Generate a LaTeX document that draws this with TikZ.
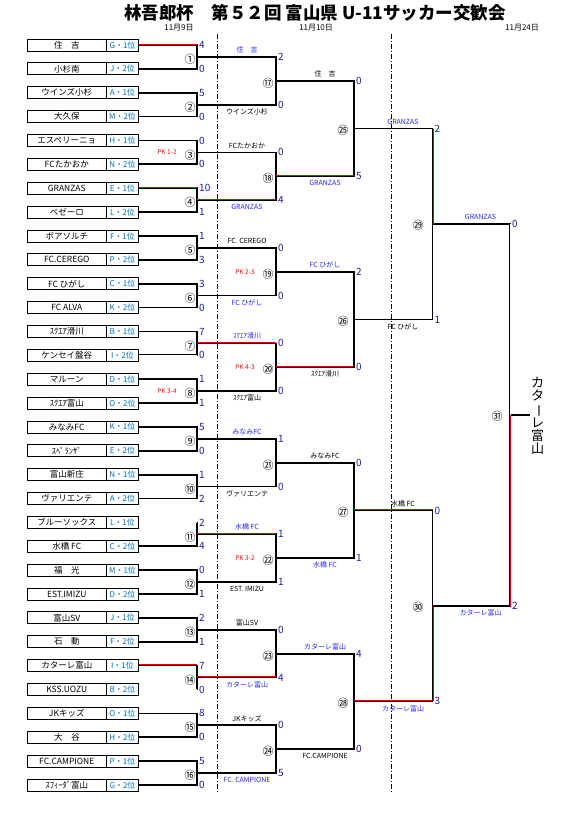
\documentclass[tikz,border=0pt]{standalone}
\usepackage{fontspec}
\setmainfont{Noto Sans CJK JP}
\usepackage{graphicx}
\definecolor{codeblue}{RGB}{0,112,192}
\definecolor{scorenavy}{RGB}{30,30,140}
\definecolor{lblblue}{RGB}{40,40,255}
\definecolor{pkred}{RGB}{255,0,0}
\definecolor{winred}{RGB}{230,0,0}
\tikzset{
  wire/.style={line width=1.7pt, line join=miter},
  winh/.style={draw=winred, line width=1.1pt, transform canvas={yshift=0.9pt}},
  winv/.style={draw=winred, line width=1.1pt, transform canvas={xshift=0.9pt}},
  dbl/.style={draw=white, line width=0.85pt},
  namebox/.style={draw, line width=0.8pt, minimum width=79.5pt, minimum height=12pt, inner sep=0pt, font=\fontsize{8.5}{9}\selectfont},
  codebox/.style={draw, line width=0.8pt, minimum width=32pt, minimum height=12pt, inner sep=0pt, text=codeblue, font=\fontsize{8}{9}\selectfont},
  score/.style={anchor=west, inner sep=0pt, text=scorenavy, font=\fontsize{10}{10}\selectfont},
  lbl/.style={inner sep=0pt, font=\fontsize{7}{8}\selectfont},
  circ/.style={inner sep=0pt, font=\fontsize{11}{11}\selectfont},
  pk/.style={inner sep=0pt, text=pkred, font=\fontsize{6.5}{7}\selectfont},
  datelbl/.style={inner sep=0pt, font=\fontsize{8}{9}\selectfont},
  divider/.style={line width=0.6pt, dash pattern=on 5pt off 2pt on 1pt off 2pt},
}
\begin{document}
\begin{tikzpicture}[x=1pt,y=-1pt]
\useasboundingbox (0,0) rectangle (585,821);
\fill[white] (0,0) rectangle (585,821);

% title and dates
\node[inner sep=0pt, font=\fontsize{17.5}{18}\selectfont\bfseries] (title) at (315,12.5) {林吾郎杯　第５２回 富山県 U-11サッカー交歓会};
\node[datelbl] (d1) at (179,28) {11月9日};
\node[datelbl] (d2) at (316,28) {11月10日};
\node[datelbl] (d3) at (522,28) {11月24日};

% dividers
\coordinate (dv1a) at (217.5,34); \coordinate (dv1b) at (217.5,793);
\coordinate (dv2a) at (391.5,34); \coordinate (dv2b) at (391.5,793);
\draw[divider] (dv1a) -- (dv1b);
\draw[divider] (dv2a) -- (dv2b);

% coordinates of bracket lines
\foreach \L/\m/\n/\xa/\xb in {0/1/31/138.5/197, 1/2/15/197/276, 2/4/7/276/354, 3/8/3/354/432.5, 4/16/1/432.5/510, 5/32/0/510/530} {
  \foreach \j in {0,...,\n} {
    \pgfmathsetmacro\yy{45+23.87*(\m*\j+(\m-1)/2)}
    \coordinate (h\L-\j-l) at (\xa,\yy);
    \coordinate (h\L-\j-r) at (\xb,\yy);
  }
}

% teams
\foreach \nm/\cd [count=\i from 0] in {
  住　吉/G・1位, 小杉南/J・2位, ウインズ小杉/A・1位, 大久保/M・2位,
  エスペリーニョ/H・1位, FCたかおか/N・2位, GRANZAS/E・1位, ベゼーロ/L・2位,
  ボアソルチ/F・1位, FC.CEREGO/P・2位, FC ひがし/C・1位, FC ALVA/K・2位,
  ｽｸｴｱ滑川/B・1位, ケンセイ盤谷/I・2位, マルーン/D・1位, ｽｸｴｱ富山/O・2位,
  みなみFC/K・1位, ｽﾍﾟﾗﾝｻﾞ/E・2位, 富山新庄/N・1位, ヴァリエンテ/A・2位,
  ブルーソックス/L・1位, 水橋 FC/C・2位, 福　光/M・1位, EST.IMIZU/D・2位,
  富山SV/J・1位, 石　動/F・2位, カターレ富山/I・1位, KSS.UOZU/B・2位,
  JKキッズ/O・1位, 大　谷/H・2位, FC.CAMPIONE/P・1位, ｽﾌｨｰﾀﾞ富山/G・2位} {
  \pgfmathsetmacro\yy{45+23.87*\i}
  \node[namebox] (n\i) at (66.75,\yy) {\nm};
  \node[codebox] (c\i) at (122.5,\yy) {\cd};
}

% brackets
\foreach \L/\n in {0/15,1/7,2/3,3/1,4/0} {
  \foreach \k [evaluate=\k as \a using int(2*\k), evaluate=\k as \b using int(2*\k+1)] in {0,...,\n} {
    \draw[wire] (h\L-\a-l) -- (h\L-\a-r) -- (h\L-\b-r) -- (h\L-\b-l);
  }
}
\draw[wire] (h5-0-l) -- (h5-0-r);

% double lines
\foreach \j in {13,20,27} { \draw[dbl] (h0-\j-l) -- (h0-\j-r); }
\draw[dbl] (h4-0-r) -- (h5-0-l);

% red winner lines
\foreach \L/\j in {0/0,0/6,0/26,1/3,1/6,1/10,1/13,2/1,2/3,3/2,3/3} {
  \draw[winh] (h\L-\j-l) -- (h\L-\j-r);
}
\draw[winv] (h3-0-r) -- (h4-0-l);
\draw[winv] (h4-1-l) -- (h3-3-r);
\draw[winv] (h5-0-l) -- (h4-1-r);

% scores
\foreach \s [count=\j from 0] in {4,0,5,0,0,0,10,1,1,3,3,0,7,0,1,1,5,0,1,2,2,4,0,1,2,1,7,0,8,0,5,0} {
  \node[score] (s0-\j) at ([xshift=2pt]h0-\j-r) {\s};
}
\foreach \s [count=\j from 0] in {2,0,0,4,0,0,0,0,1,0,1,1,0,4,0,5} {
  \node[score] (s1-\j) at ([xshift=2pt]h1-\j-r) {\s};
}
\foreach \s [count=\j from 0] in {0,5,2,0,0,1,4,0} {
  \node[score] (s2-\j) at ([xshift=2pt]h2-\j-r) {\s};
}
\foreach \s [count=\j from 0] in {2,1,0,3} {
  \node[score] (s3-\j) at ([xshift=2pt]h3-\j-r) {\s};
}
\foreach \s [count=\j from 0] in {0,2} {
  \node[score] (s4-\j) at ([xshift=2pt]h4-\j-r) {\s};
}

% labels on lines
\foreach \t/\c/\p [count=\j from 0] in {
  住　吉/lblblue/-7, ウインズ小杉/black/7, FCたかおか/black/-7, GRANZAS/lblblue/7,
  FC. CEREGO/black/-7, FC ひがし/lblblue/7, ｽｸｴｱ滑川/lblblue/-7, ｽｸｴｱ富山/black/7,
  みなみFC/lblblue/-7, ヴァリエンテ/black/7, 水橋 FC/lblblue/-7, EST. IMIZU/black/7,
  富山SV/black/-7, カターレ富山/lblblue/7, JKキッズ/black/-7, FC. CAMPIONE/lblblue/7} {
  \pgfmathsetmacro\yy{45+23.87*(2*\j+0.5)+\p}
  \node[lbl, text=\c] (l1-\j) at (247,\yy) {\t};
}
\foreach \t/\c/\p [count=\j from 0] in {
  住　吉/black/-7, GRANZAS/lblblue/7, FC ひがし/lblblue/-7, ｽｸｴｱ滑川/black/7,
  みなみFC/black/-7, 水橋 FC/lblblue/7, カターレ富山/lblblue/-7, FC.CAMPIONE/black/7} {
  \pgfmathsetmacro\yy{45+23.87*(4*\j+1.5)+\p}
  \node[lbl, text=\c] (l2-\j) at (325,\yy) {\t};
}
\foreach \t/\c/\p [count=\j from 0] in {
  GRANZAS/lblblue/-7, FC ひがし/black/7, 水橋 FC/black/-7, カターレ富山/lblblue/7} {
  \pgfmathsetmacro\yy{45+23.87*(8*\j+3.5)+\p}
  \node[lbl, text=\c] (l3-\j) at (403,\yy) {\t};
}
\foreach \t/\c/\p [count=\j from 0] in {GRANZAS/lblblue/-7, カターレ富山/lblblue/7} {
  \pgfmathsetmacro\yy{45+23.87*(16*\j+7.5)+\p}
  \node[lbl, text=\c] (l4-\j) at (480.5,\yy) {\t};
}

% match numbers
\foreach \c [count=\j from 0] in {①,②,③,④,⑤,⑥,⑦,⑧,⑨,⑩,⑪,⑫,⑬,⑭,⑮,⑯} {
  \pgfmathsetmacro\yy{45+23.87*(2*\j+0.5)+2.5}
  \node[circ] (m1-\j) at (190,\yy) {\c};
}
\foreach \c [count=\j from 0] in {⑰,⑱,⑲,⑳,㉑,㉒,㉓,㉔} {
  \pgfmathsetmacro\yy{45+23.87*(4*\j+1.5)+2.5}
  \node[circ] (m2-\j) at (268,\yy) {\c};
}
\foreach \c [count=\j from 0] in {㉕,㉖,㉗,㉘} {
  \pgfmathsetmacro\yy{45+23.87*(8*\j+3.5)+1.5}
  \node[circ] (m3-\j) at (343,\yy) {\c};
}
\foreach \c [count=\j from 0] in {㉙,㉚} {
  \pgfmathsetmacro\yy{45+23.87*(16*\j+7.5)+1.5}
  \node[circ] (m4-\j) at (418,\yy) {\c};
}
\node[circ] (m5-0) at (497,416.5) {㉛};

% PK results
\node[pk] (pk3) at (167,152.4) {PK 1-2};
\node[pk] (pk8) at (167,391) {PK 3-4};
\node[pk] (pk19) at (245,271.8) {PK 2-3};
\node[pk] (pk20) at (245,367.2) {PK 4-3};
\node[pk] (pk22) at (245,558.2) {PK 3-2};

% champion
\node[inner sep=0pt, align=center, font=\fontsize{13}{13}\selectfont] (champ) at (537.5,416) {カ\\タ\\\rotatebox[origin=c]{-90}{ー}\\レ\\富\\山};
\end{tikzpicture}
\end{document}
